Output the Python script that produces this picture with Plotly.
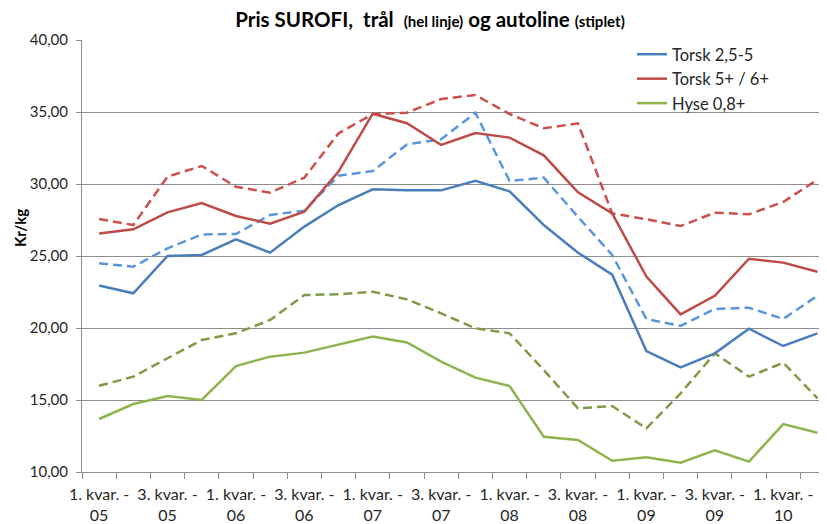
import plotly.graph_objects as go

quarters = [f"{q}. kvar. - {y:02d}" for y in range(5, 11) for q in range(1, 5)][:22]

torsk_25_5_tral = [22.95, 22.41, 25.00, 25.07, 26.16, 25.23, 27.04, 28.54, 29.63, 29.56, 29.56,
                   30.23, 29.49, 27.15, 25.23, 23.70, 18.40, 17.27, 18.24, 19.95, 18.75, 19.63]
torsk_5_6_tral = [26.57, 26.85, 28.03, 28.68, 27.78, 27.25, 28.08, 30.86, 34.88, 34.22, 32.71,
                  33.54, 33.22, 31.99, 29.42, 27.96, 23.57, 20.95, 22.24, 24.81, 24.54, 23.91]
hyse_tral = [13.68, 14.72, 15.28, 15.00, 17.36, 18.01, 18.29, 18.82, 19.40, 19.00, 17.66,
             16.55, 15.97, 12.45, 12.22, 10.78, 11.02, 10.65, 11.51, 10.72, 13.33, 12.73]

torsk_25_5_auto = [24.49, 24.26, 25.53, 26.49, 26.53, 27.85, 28.15, 30.58, 30.90, 32.75, 33.10,
                   34.95, 30.21, 30.44, 27.72, 25.07, 20.62, 20.14, 21.32, 21.41, 20.63, 22.24]
torsk_5_6_auto = [27.57, 27.15, 30.51, 31.25, 29.81, 29.40, 30.44, 33.52, 34.86, 34.95, 35.90,
                  36.18, 34.86, 33.87, 34.21, 27.96, 27.55, 27.08, 28.01, 27.90, 28.75, 30.30]
hyse_auto = [15.99, 16.62, 17.90, 19.17, 19.63, 20.56, 22.29, 22.34, 22.52, 21.99, 21.02,
             19.98, 19.63, 17.08, 14.42, 14.58, 13.03, 15.46, 18.24, 16.62, 17.59, 15.12]

ytick_vals = [10, 15, 20, 25, 30, 35, 40]
ytick_text = ["10,00", "15,00", "20,00", "25,00", "30,00", "35,00", "40,00"]

FONT = "Lato"
fig = go.Figure()

dash_style = "9px,5px"
auto_series = [
    (torsk_25_5_auto, "#5B96DC"),
    (torsk_5_6_auto, "#CB504D"),
    (hyse_auto, "#7F9A45"),
]
for vals, col in auto_series:
    fig.add_trace(go.Scatter(x=quarters, y=vals, mode="lines", showlegend=False,
                             line=dict(color=col, width=2.5, dash=dash_style)))

tral_series = [
    ("Torsk 2,5-5", torsk_25_5_tral, "#4A7EBB"),
    ("Torsk 5+ / 6+", torsk_5_6_tral, "#BE4B48"),
    ("Hyse 0,8+", hyse_tral, "#8EB44F"),
]
for name, vals, col in tral_series:
    fig.add_trace(go.Scatter(x=quarters, y=vals, mode="lines", name=name,
                             line=dict(color=col, width=2.5)))

xtick_text = [q.replace(" - ", " -<br>") if i % 2 == 0 else "" for i, q in enumerate(quarters)]

# page has an 8px body margin; figure coordinates are offset accordingly
OFF = 8
PL, PR, PT, PB = 82 - OFF, 827 - OFF, 40 - OFF, 472 - OFF
W, H = 827, 524
PW, PH = PR - PL, PB - PT

fig.update_layout(
    width=W, height=H,
    margin=dict(l=PL, r=W - PR, t=PT, b=H - PB, autoexpand=False),
    paper_bgcolor="white", plot_bgcolor="white",
    font=dict(family=FONT, size=15, color="#262626"),
    title=dict(
        text="<b>Pris SUROFI,  trål  <span style='font-size:15px'>(hel linje)</span> og autoline "
             "<span style='font-size:15px'>(stiplet)</span></b>",
        font=dict(family=FONT, size=20.5, color="black"),
        xref="container", yref="container", x=(430 - OFF) / W, y=1 - (20 - OFF) / H,
        xanchor="center", yanchor="middle",
    ),
    xaxis=dict(
        type="category", range=[-0.5, 21.28],
        tickmode="array", tickvals=quarters, ticktext=xtick_text,
        tickson="boundaries", ticks="outside", ticklen=6, tickcolor="#8C8C8C",
        showgrid=False, showline=True, linecolor="#8C8C8C", linewidth=1,
        tickfont=dict(size=16, color="#262626"), tickangle=0, ticklabelstandoff=8,
    ),
    yaxis=dict(
        range=[10, 40], tickmode="array", tickvals=ytick_vals, ticktext=ytick_text,
        showgrid=True, gridcolor="#8C8C8C", gridwidth=1,
        showline=True, linecolor="#8C8C8C", linewidth=1,
        ticks="outside", ticklen=5, tickcolor="#8C8C8C", ticklabelstandoff=5,
        zeroline=False, tickfont=dict(size=15, color="#262626"),
    ),
    legend=dict(
        x=(632 - 82) / PW, y=1 + 3 / PH, xanchor="left", yanchor="top",
        bgcolor="rgba(0,0,0,0)", font=dict(family=FONT, size=16.5, color="#262626"),
        itemwidth=30, tracegroupgap=0,
    ),
    annotations=[dict(
        text="<b>Kr/kg</b>", textangle=-90, xref="paper", yref="paper",
        x=-(82 - 20) / PW, y=(472 - 228) / PH, xanchor="center", yanchor="middle",
        showarrow=False, font=dict(family=FONT, size=15, color="black"),
    )],
)

fig.write_html("out.html")
